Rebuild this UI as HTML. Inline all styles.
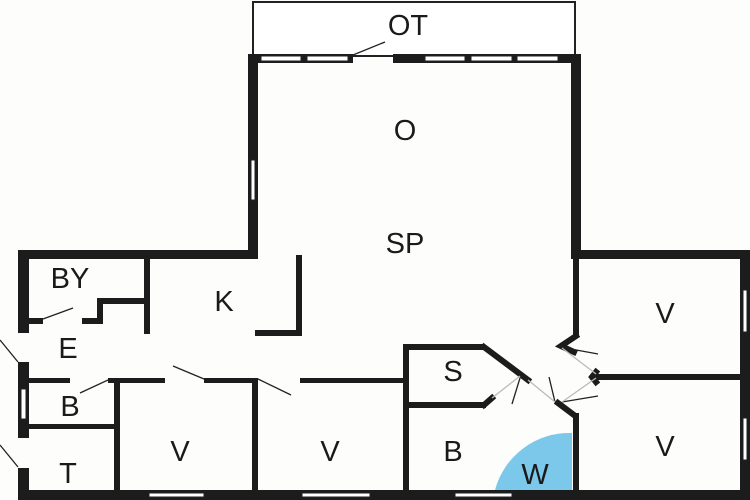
<!DOCTYPE html>
<html><head><style>
html,body{margin:0;padding:0;background:#fff;}
svg{display:block;}
text{font-family:"Liberation Sans",sans-serif;font-size:29px;fill:#1a1a1a;text-anchor:middle;}
</style></head><body>
<svg width="750" height="500" viewBox="0 0 750 500" xmlns="http://www.w3.org/2000/svg">
<rect width="750" height="500" fill="#fdfdfb"/>
<rect x="253" y="2" width="322" height="54" fill="#fff" stroke="#222" stroke-width="2"/>
<path d="M572 490 L495 490 A77 77 0 0 1 572 433 Z" fill="#7cc8ea"/>
<g fill="#1c1c1c">
<rect x="248" y="54" width="10" height="204"/>
<rect x="571" y="54" width="10" height="204"/>
<rect x="248" y="54" width="105" height="9"/>
<rect x="393" y="54" width="188" height="9"/>
<rect x="18" y="250" width="240" height="9"/>
<rect x="571" y="250" width="179" height="9"/>
<rect x="740" y="250" width="10" height="250"/>
<rect x="18" y="490" width="732" height="10"/>
<rect x="18" y="250" width="11" height="83"/>
<rect x="18" y="362" width="11" height="76"/>
<rect x="18" y="468" width="11" height="32"/>
<rect x="144" y="258" width="6" height="76"/>
<rect x="97" y="298" width="53" height="6"/>
<rect x="97" y="298" width="6" height="24"/>
<rect x="82" y="318" width="21" height="6"/>
<rect x="29" y="318" width="14" height="6"/>
<rect x="296" y="255" width="6" height="80"/>
<rect x="255" y="330" width="47" height="6"/>
<rect x="29" y="378" width="41" height="5"/>
<rect x="108" y="378" width="57" height="5"/>
<rect x="204" y="378" width="50" height="5"/>
<rect x="300" y="378" width="108" height="5"/>
<rect x="29" y="424" width="90" height="5"/>
<rect x="114" y="378" width="6" height="115"/>
<rect x="252" y="378" width="6" height="115"/>
<rect x="403" y="345" width="6" height="148"/>
<rect x="403" y="344" width="82" height="6"/>
<rect x="403" y="402" width="83" height="6"/>
<rect x="573" y="413" width="6" height="80"/>
<rect x="573" y="258" width="6" height="78"/>
<rect x="592" y="374" width="150" height="6"/>
</g>
<g stroke="#1c1c1c" stroke-width="6" fill="none" stroke-linecap="square">
<path d="M484 347 L528 380"/>
<path d="M484 405 L492 398"/>
<path d="M558 403 L574 415"/>
<path d="M576 336 L561 346 L574 352"/>
<path d="M596 372 L592 377 L596 382"/>
</g>
<g stroke="#222" stroke-width="1.3" fill="none">
<line x1="43" y1="319" x2="73" y2="308"/>
<line x1="0" y1="340" x2="18" y2="362"/>
<line x1="0" y1="445" x2="18" y2="467"/>
<line x1="108" y1="380" x2="80" y2="393"/>
<line x1="204" y1="379" x2="173" y2="366"/>
<line x1="258" y1="379" x2="291" y2="395"/>
<line x1="353" y1="55" x2="385" y2="42"/>
<line x1="520" y1="378" x2="512" y2="404"/>
<line x1="560" y1="347" x2="598" y2="354"/>
<line x1="562" y1="402" x2="598" y2="396"/>
<line x1="555" y1="402" x2="549" y2="377"/>
<line x1="492" y1="398" x2="520" y2="376" stroke="#bbb"/>
<line x1="528" y1="380" x2="555" y2="402" stroke="#bbb"/>
<line x1="562" y1="348" x2="596" y2="374" stroke="#bbb"/>
<line x1="562" y1="402" x2="596" y2="378" stroke="#bbb"/>
</g>
<g fill="#fff" stroke="#222" stroke-width="1">
<rect x="261" y="56" width="40" height="5"/>
<rect x="307" y="56" width="41" height="5"/>
<rect x="425" y="56" width="40" height="5"/>
<rect x="471" y="56" width="41" height="5"/>
<rect x="517" y="56" width="41" height="5"/>
<rect x="251" y="160" width="4" height="40"/>
<rect x="21" y="389" width="5" height="30"/>
<rect x="149" y="493" width="55" height="4"/>
<rect x="302" y="493" width="68" height="4"/>
<rect x="455" y="493" width="57" height="4"/>
<rect x="743" y="290" width="4" height="42"/>
<rect x="743" y="418" width="4" height="42"/>
</g>
<text x="408" y="35">OT</text>
<text x="405" y="140">O</text>
<text x="405" y="253">SP</text>
<text x="70" y="288">BY</text>
<text x="224" y="311">K</text>
<text x="68" y="358">E</text>
<text x="70" y="416">B</text>
<text x="68" y="483">T</text>
<text x="180" y="461">V</text>
<text x="330" y="461">V</text>
<text x="453" y="381">S</text>
<text x="453" y="461">B</text>
<text x="535" y="484">W</text>
<text x="665" y="323">V</text>
<text x="665" y="456">V</text>
</svg>
</body></html>
